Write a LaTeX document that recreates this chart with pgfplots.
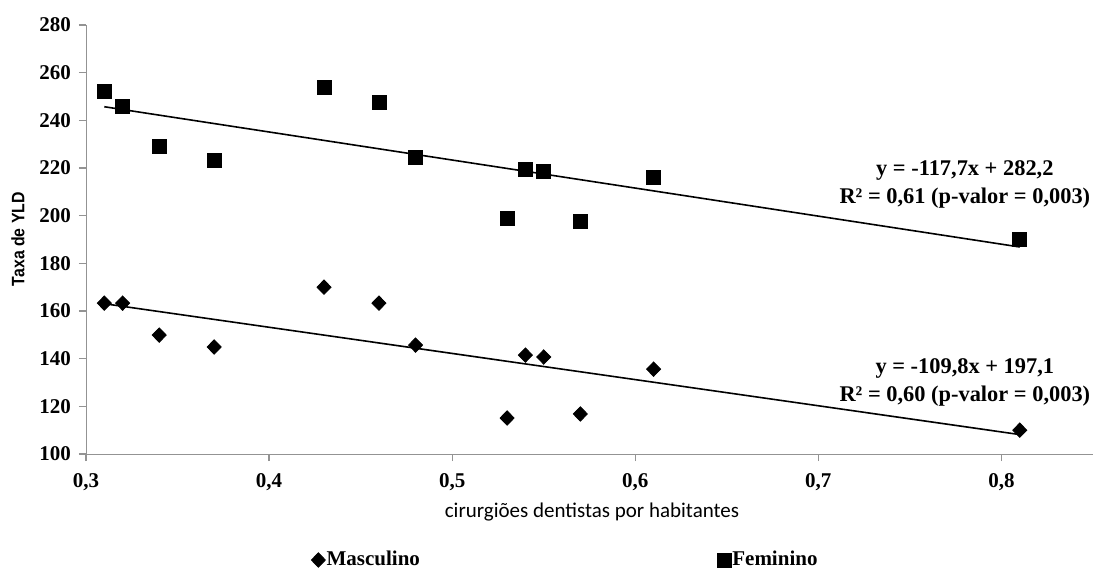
\documentclass[border=0pt]{standalone}
\usepackage{fontspec}
\setmainfont{Liberation Serif}
\newfontfamily\carlito{Carlito}
\newfontfamily\lsans{Liberation Sans}
\usepackage{pgfplots}
\pgfplotsset{compat=1.18}
\begin{document}
\begin{tikzpicture}
\useasboundingbox (-43pt,-58pt) rectangle (511.5pt,227pt);
\begin{axis}[
  at={(0pt,0pt)}, anchor=south west,
  scale only axis, width=503.5pt, height=214.5pt,
  xmin=0.3, xmax=0.85, ymin=100, ymax=280,
  xtick={0.3,0.4,0.5,0.6,0.7,0.8},
  ytick={100,120,140,160,180,200,220,240,260,280},
  axis x line=bottom, axis y line=left,
  axis line style={-, draw=gray!85},
  tick style={draw=gray!85, line width=0.6pt},
  tick align=outside, major tick length=3.5pt,
  x tick label style={/pgf/number format/use comma, /pgf/number format/fixed, /pgf/number format/fixed zerofill, /pgf/number format/precision=1, /pgf/number format/assume math mode=true, yshift=-2.5pt},
  y tick label style={/pgf/number format/fixed, /pgf/number format/precision=0, /pgf/number format/assume math mode=true, xshift=-0.5pt},
  ticklabel style={font=\fontsize{10.5}{12}\selectfont\bfseries},
  xlabel={cirurgiões dentistas por habitantes},
  xlabel style={at={(axis description cs:0.5025,0)}, anchor=center, yshift=-29pt, font=\carlito\fontsize{10.5}{12}\selectfont},
  ylabel={\scalebox{0.88}[1]{Taxa de YLD}},
  ylabel style={at={(axis description cs:0,0.501)}, anchor=center, yshift=34pt, font=\lsans\fontsize{9}{11}\selectfont\bfseries},
  legend columns=2,
  legend style={draw=none, at={(0.2234,0)}, anchor=west, yshift=-53pt,
    font=\fontsize{10.5}{12}\selectfont\bfseries, inner sep=0pt,
    nodes={inner sep=0.6pt},
    /tikz/every even column/.append style={column sep=148pt}},
  legend image code/.code={\draw[#1] plot coordinates {(0cm,0cm)};},
]
\addplot[only marks, mark=diamond*, mark size=3.6pt, mark options={xscale=1.3, fill=black, draw=black}] coordinates {
(0.31,163.3) (0.32,163.3) (0.34,149.9) (0.37,144.9) (0.43,170.0) (0.46,163.3)
(0.48,145.7) (0.53,115.1) (0.54,141.5) (0.55,140.7) (0.57,116.8) (0.61,135.6) (0.81,110.0)
};
\addlegendentry{Masculino}
\addplot[only marks, mark=square*, mark size=3.5pt, mark options={fill=black, draw=black}] coordinates {
(0.31,252.3) (0.32,246.0) (0.34,229.2) (0.37,223.4) (0.43,254.0) (0.46,247.7)
(0.48,224.6) (0.53,199.0) (0.54,219.6) (0.55,218.7) (0.57,197.8) (0.61,216.2) (0.81,190.2)
};
\addlegendentry{Feminino}
\addplot[forget plot, black, line width=0.8pt] coordinates {(0.31,163.06) (0.81,108.16)};
\addplot[forget plot, black, line width=0.8pt] coordinates {(0.31,245.71) (0.81,186.86)};
\node[align=center, font=\fontsize{11.2}{14}\selectfont\bfseries] at (axis cs:0.7800,213.3) {y = -117,7x + 282,2\\R² = 0,61 (p-valor = 0,003)};
\node[align=center, font=\fontsize{11.2}{14}\selectfont\bfseries] at (axis cs:0.7800,130) {y = -109,8x + 197,1\\R² = 0,60 (p-valor = 0,003)};
\end{axis}
\end{tikzpicture}
\end{document}
